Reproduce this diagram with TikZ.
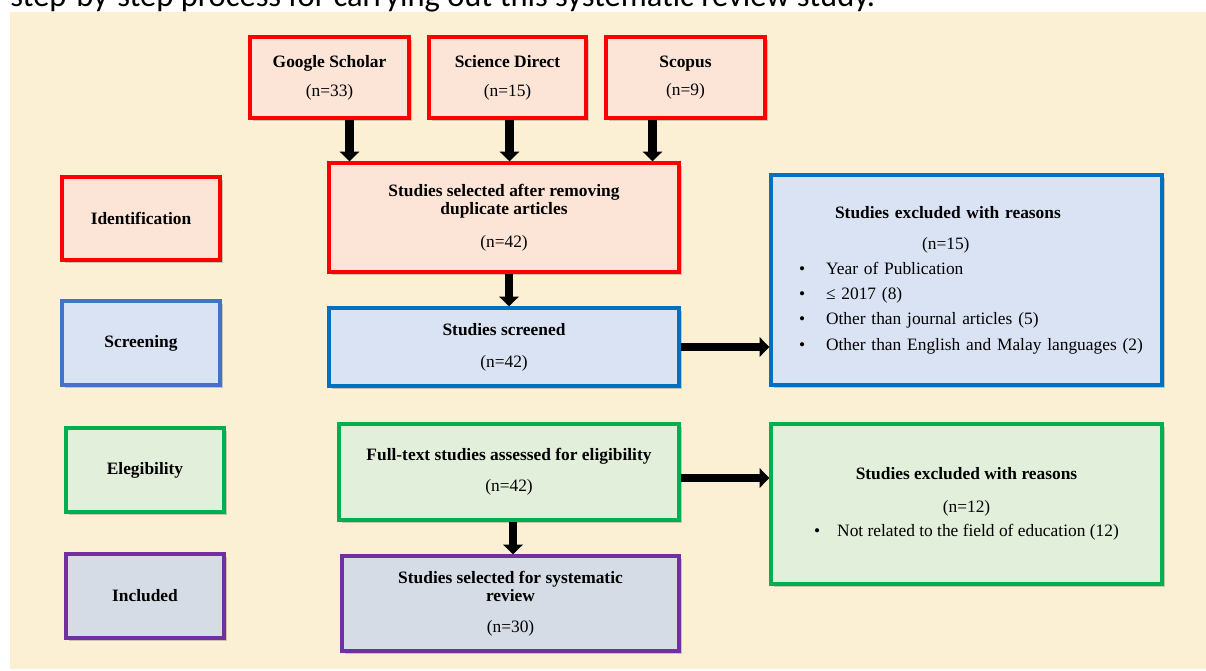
\documentclass[tikz,border=0pt]{standalone}
\usepackage{fontspec}
\setmainfont{Liberation Serif}
\newfontfamily\capfont{Carlito}
\usetikzlibrary{arrows.meta,shadows,calc}

\definecolor{panel}{HTML}{FBF0D3}
\definecolor{idfill}{HTML}{FCE4D6}
\definecolor{scfill}{HTML}{DAE3F3}
\definecolor{elfill}{HTML}{E2EFDA}
\definecolor{infill}{HTML}{D6DCE5}
\definecolor{scline}{HTML}{4472C4}
\definecolor{scdark}{HTML}{0070C0}
\definecolor{elline}{HTML}{00B050}
\definecolor{incline}{HTML}{7030A0}

\newcommand{\bitem}[1]{\hspace*{0.56cm}\makebox[0.54cm][l]{\textbullet}#1}

\tikzset{
  stage/.style={draw, line width=2pt, inner sep=0pt, align=center,
    font=\fontsize{9.9}{10.4}\selectfont,
    drop shadow={shadow xshift=1.6pt, shadow yshift=-1.6pt, opacity=0.4}},
  idbox/.style={stage, draw=red, fill=idfill},
  scbox/.style={stage, draw=scline, fill=scfill},
  scdbox/.style={stage, draw=scdark, fill=scfill},
  elbox/.style={stage, draw=elline, fill=elfill},
  inbox/.style={stage, draw=incline, fill=infill},
  flow/.style={line width=5pt, -{Triangle[width=11pt,length=5.5pt]}}
}

\begin{document}
\begin{tikzpicture}[x=0.02cm, y=-0.02cm]
  \useasboundingbox (0,0) rectangle (1206,670);
  \fill[white] (0,0) rectangle (1206,670);
  \fill[panel] (10,12) rectangle (1206,669);
  \node[anchor=base west, inner sep=0pt, font=\capfont\fontsize{18.5}{20}\selectfont] (caption) at (10,6) {step-by-step process for carrying out this systematic review study.};

  \node[idbox, minimum width=3.18cm, minimum height=1.62cm] (gs) at (329.5,77.5) {\textbf{Google Scholar}\\[0.21cm](n=33)};
  \node[idbox, minimum width=3.14cm, minimum height=1.62cm] (sd) at (507.5,77.5) {\textbf{Science Direct}\\[0.21cm](n=15)};
  \node[idbox, minimum width=3.18cm, minimum height=1.62cm] (sco) at (685.5,77.5) {\textbf{Scopus}\\[0.21cm](n=9)};

  \node[idbox, minimum width=3.16cm, minimum height=1.66cm] (ident) at (141,218.5) {\textbf{Identification}};
  \node[scbox, minimum width=3.16cm, minimum height=1.68cm] (scrn) at (141,343) {\textbf{Screening}};
  \node[elbox, minimum width=3.16cm, minimum height=1.68cm] (eleg) at (145,470) {\textbf{Elegibility}};
  \node[inbox, minimum width=3.16cm, minimum height=1.68cm] (incl) at (145,596) {\textbf{Included}};

  \node[idbox, minimum width=7cm, minimum height=2.18cm] (sel) at (504,217.5) {\textbf{Studies selected after removing}\\\textbf{duplicate articles}\\[0.29cm](n=42)};
  \node[scdbox, minimum width=7cm, minimum height=1.56cm] (scrd) at (504,347) {\textbf{Studies screened}\\[0.27cm](n=42)};
  \node[elbox, minimum width=6.8cm, minimum height=1.92cm] (full) at (509,472) {\textbf{Full-text studies assessed for eligibility}\\[0.25cm](n=42)};
  \node[inbox, minimum width=6.74cm, minimum height=1.9cm] (final) at (510.5,603.5) {\textbf{Studies selected for systematic}\\\textbf{review}\\[0.25cm](n=30)};

  \node[scdbox, align=left, text width=7.82cm, minimum height=4.2cm] (excla) at (966.5,280) {\hspace*{1.28cm}\textbf{Studies excluded with reasons}\\[0.25cm]
    \hspace*{3.02cm}(n=15)\\[0.14cm]
    \bitem{Year of Publication}\\[0.14cm]
    \bitem{≤ 2017 (8)}\\[0.14cm]
    \bitem{Other than journal articles (5)}\\[0.14cm]
    \bitem{Other than English and Malay languages (2)}};
  \node[elbox, minimum width=7.82cm, minimum height=3.2cm] (exclb) at (966.5,504) {\textbf{Studies excluded with reasons}\\[0.29cm](n=12)\\[0.11cm]\makebox[0.46cm][l]{\textbullet}Not related to the field of education (12)};

  \coordinate (gsout) at ($(gs.south)+(20,0)$);
  \coordinate (sdout) at ($(sd.south)+(2,0)$);
  \coordinate (scoout) at ($(sco.south)+(-33,0)$);
  \coordinate (selout) at ($(sel.south)+(5,0)$);
  \coordinate (fullout) at ($(full.south)+(4,0)$);
  \coordinate (fullside) at ($(full.east)+(0,6)$);
  \draw[flow] (gsout) -- (gsout |- sel.north);
  \draw[flow] (sdout) -- (sdout |- sel.north);
  \draw[flow] (scoout) -- (scoout |- sel.north);
  \draw[flow] (selout) -- (selout |- scrd.north);
  \draw[flow] (scrd.east) -- (scrd.east -| excla.west);
  \draw[flow] (fullout) -- (fullout |- final.north);
  \draw[flow] (fullside) -- (fullside -| exclb.west);
\end{tikzpicture}
\end{document}
